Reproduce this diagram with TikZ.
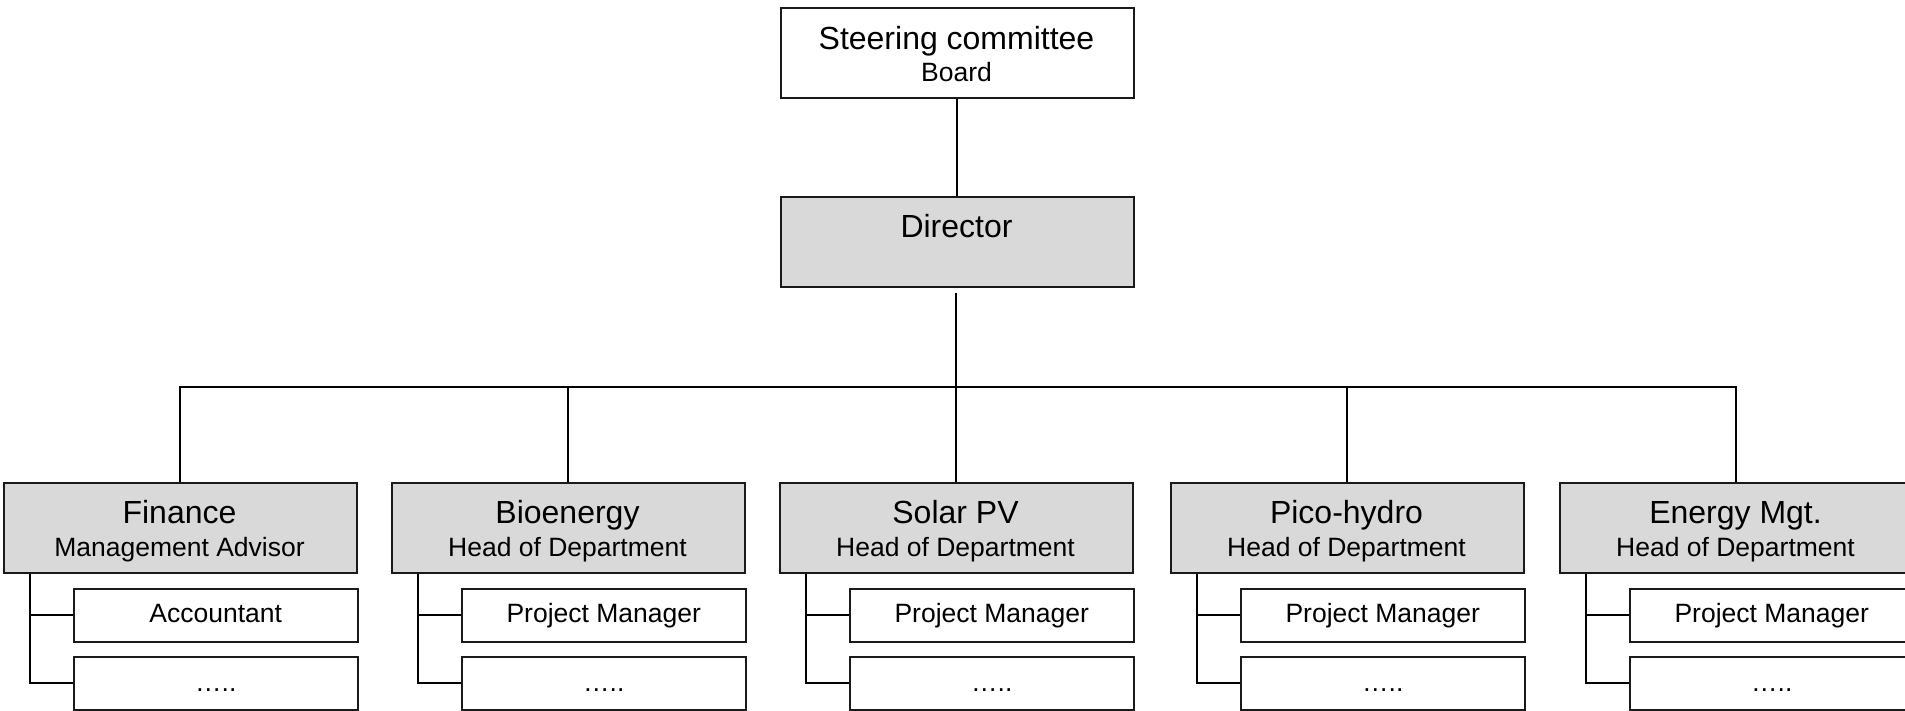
\documentclass[tikz,border=0pt]{standalone}
\usepackage{fontspec}
\setmainfont{Liberation Sans}
\usetikzlibrary{calc}
\definecolor{headgrey}{HTML}{D9D9D9}
\definecolor{edge}{HTML}{1A1A1A}
\begin{document}
\begin{tikzpicture}[x=1pt,y=-1pt,
  box/.style={draw=edge, line width=1.5pt, rectangle, inner sep=0pt, anchor=north west},
  headbox/.style={box, fill=headgrey, minimum width=353pt, minimum height=90pt},
  topbox/.style={box, fill=white, minimum width=353pt, minimum height=90pt},
  subbox/.style={box, fill=white, minimum width=284pt, minimum height=53pt},
  bigtext/.style={font=\fontsize{32}{36}\selectfont, anchor=base, inner sep=0pt},
  smalltext/.style={font=\fontsize{26.5}{30}\selectfont, anchor=base, inner sep=0pt},
  conn/.style={line width=1.7pt, draw=black},
]
\useasboundingbox (0,0) rectangle (1905,710);
\clip (0,0) rectangle (1905,710);

% top levels
\node[topbox] (top) at (780,7) {};
\node[bigtext] (topt) at (956.5,49) {Steering committee};
\node[smalltext] (topb) at (956.5,81) {Board};
\node[headbox] (dir) at (780,196) {};
\node[bigtext] (dirt) at (956.5,237) {Director};

% departments
\foreach \i/\lx/\ta/\tb/\sa in {
  1/3/Finance/Management Advisor/Accountant,
  2/391/Bioenergy/Head of Department/Project Manager,
  3/779/Solar PV/Head of Department/Project Manager,
  4/1170/Pico-hydro/Head of Department/Project Manager,
  5/1559/Energy Mgt./Head of Department/Project Manager}{
  \node[headbox] (d\i) at (\lx,482) {};
  \node[bigtext] (d\i t) at ($(\lx,0)+(176.5,523)$) {\ta};
  \node[smalltext] (d\i s) at ($(\lx,0)+(176.5,556)$) {\tb};
  \node[subbox] (s\i a) at ($(\lx,0)+(70,588)$) {};
  \node[subbox] (s\i b) at ($(\lx,0)+(70,656)$) {};
  \node[smalltext] (s\i at) at ($(s\i a.north)+(0,34)$) {\sa};
  \node[smalltext] (s\i bt) at ($(s\i b.north)+(0,35)$) {…..};
  \coordinate (v\i) at ($(d\i.south west)+(27,0)$);
  \draw[conn] (v\i) |- (s\i b.west);
  \draw[conn] (v\i |- s\i a.west) -- (s\i a.west);
}

% connectors
\coordinate (bus) at (0,387);
\coordinate (dirout) at ([yshift=-5pt]dir.south);
\draw[conn] (top.south) -- (dir.north);
\draw[conn] (dirout -| d3.north) -- (d3.north);
\draw[conn] (d1.north) -- (d1.north |- bus) -- (d5.north |- bus) -- (d5.north);
\draw[conn] (d2.north |- bus) -- (d2.north);
\draw[conn] (d4.north |- bus) -- (d4.north);
\end{tikzpicture}
\end{document}
